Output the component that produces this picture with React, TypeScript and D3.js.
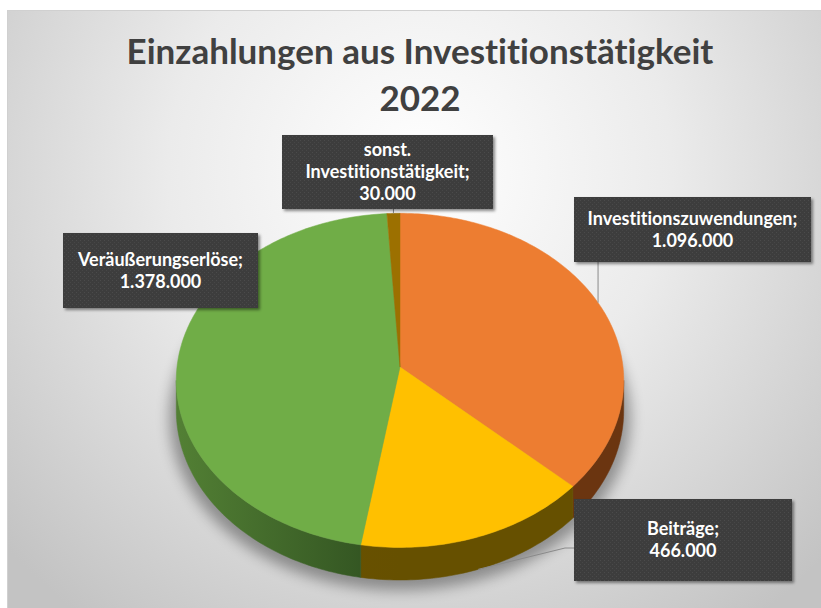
import React from "react";
import * as d3 from "d3";

const titleLines = ["Einzahlungen aus Investitionstätigkeit", "2022"];
const categories = ["Investitionszuwendungen", "Beiträge", "Veräußerungserlöse", "sonst. Investitionstätigkeit"];
const values = [1096000, 466000, 1378000, 30000];
const topColors = ["#ED7D31", "#FFC000", "#70AD47", "#9C7000"];
const sideColors = [["#6E3612", "#6B3510"], ["#6E5300", "#665000"], ["#527F34", "#2E4E1F"], ["#5A4000", "#5A4000"]];

const W = 821, H = 608;
const cx = 400, cy = 367, rx = 223, ry = 166, K = 0.08, DEPTH = 30;

// label box layout (x, y, w, h) per category
const boxes = [
  { x: 574, y: 197, w: 237, h: 65 },
  { x: 574, y: 499, w: 218, h: 82 },
  { x: 63, y: 233, w: 195, h: 75 },
  { x: 282, y: 135, w: 211, h: 74 },
];

const de = d3.formatLocale({ decimal: ",", thousands: ".", grouping: [3], currency: ["", "€"] });
const fmt = de.format(",");

function pt(t: number, dz = 0): [number, number] {
  const s = 1 / (1 + K * Math.cos(t));
  return [cx + rx * Math.sin(t) * s, cy - ry * Math.cos(t) * s + dz * s];
}

function arcPts(a: number, b: number, dz = 0) {
  const n = Math.max(2, Math.ceil(((b - a) * 180) / Math.PI));
  const out: [number, number][] = [];
  for (let i = 0; i <= n; i++) out.push(pt(a + ((b - a) * i) / n, dz));
  return out;
}

function toPath(p: [number, number][]) {
  return "M" + p.map((q) => q[0].toFixed(2) + "," + q[1].toFixed(2)).join("L") + "Z";
}

function wrap(label: string): string[] {
  if (label.length > 24) {
    const i = label.indexOf(" ");
    return [label.slice(0, i), label.slice(i + 1) + ";"];
  }
  return [label + ";"];
}

export default function App() {
  const pie = d3.pie<number>().sort(null).value((d) => d)(values);
  const t1 = Math.acos(-K), t2 = 2 * Math.PI - Math.acos(-K);

  const sides: { d: string; i: number }[] = [];
  pie.forEach((p, i) => {
    const a = Math.max(p.startAngle, t1), b = Math.min(p.endAngle, t2);
    if (b > a) {
      const top = arcPts(a, b, 0);
      const bot = arcPts(a, b, DEPTH).reverse();
      sides.push({ d: toPath([...top, ...bot]), i });
    }
  });
  const tops = pie.map((p, i) => ({ d: toPath([[cx, cy], ...arcPts(p.startAngle, p.endAngle)]), i }));
  const shadow = toPath(arcPts(0, 2 * Math.PI, DEPTH));

  // leader anchors
  const mid = pie.map((p) => (p.startAngle + p.endAngle) / 2);
  const aOrange = pt(mid[0]);
  const aYellow = pt(mid[1], DEPTH);
  const aSonst = pt(mid[3]);

  const font = "Lato, 'Open Sans', sans-serif";
  const noLig = { fontVariantLigatures: "none", fontFeatureSettings: "'liga' 0, 'clig' 0" } as React.CSSProperties;

  return (
    <svg width={W} height={H} style={{ position: "fixed", left: 0, top: 0 }} xmlns="http://www.w3.org/2000/svg">
      <defs>
        <radialGradient id="bg" gradientUnits="userSpaceOnUse" cx={420} cy={170} r={560}>
          <stop offset="0" stopColor="#ffffff" />
          <stop offset="0.45" stopColor="#ebebeb" />
          <stop offset="1" stopColor="#c3c3c3" />
        </radialGradient>
        {sideColors.map((c, i) => (
          <linearGradient key={i} id={"side" + i} gradientUnits="userSpaceOnUse" x1={180} y1={0} x2={400} y2={0}>
            <stop offset="0" stopColor={c[0]} />
            <stop offset="1" stopColor={c[1]} />
          </linearGradient>
        ))}
        <filter id="blur" x="-20%" y="-20%" width="140%" height="140%">
          <feGaussianBlur stdDeviation="7" />
        </filter>
        <filter id="boxShadow" x="-10%" y="-10%" width="130%" height="140%">
          <feDropShadow dx="2" dy="2" stdDeviation="1.8" floodColor="#000" floodOpacity="0.45" />
        </filter>
        <pattern id="dots" width="4" height="4" patternUnits="userSpaceOnUse">
          <rect width="4" height="4" fill="#3c3c3c" />
          <rect x="0" y="0" width="1" height="1" fill="#4c4c4c" />
          <rect x="2" y="2" width="1" height="1" fill="#474747" />
        </pattern>
      </defs>
      <rect x={0} y={0} width={W} height={H} fill="#ffffff" />
      <rect x={7.5} y={10.5} width={W} height={H} fill="url(#bg)" stroke="#d0d0d0" strokeWidth={1} />

      <text fontFamily={font} fontWeight={700} fontSize={35} fill="#404040" textAnchor="middle" style={noLig}>
        <tspan x={420} y={64}>{titleLines[0]}</tspan>
        <tspan x={420} y={111}>{titleLines[1]}</tspan>
      </text>

      <g filter="url(#blur)" opacity={0.35}>
        <path d={shadow} fill="#000" transform={`translate(0,6) translate(${cx},${cy}) scale(1.03,1.02) translate(${-cx},${-cy})`} />
      </g>

      {sides.map((s) => (
        <path key={"s" + s.i} d={s.d} fill={`url(#side${s.i})`} stroke={`url(#side${s.i})`} strokeWidth={0.5} />
      ))}
      {tops.map((s) => (
        <path key={"t" + s.i} d={s.d} fill={topColors[s.i]} stroke={topColors[s.i]} strokeWidth={0.5} />
      ))}

      {/* leader lines */}
      <g stroke="#8a8a8a" strokeWidth={1} fill="none">
        <polyline points={`${aOrange[0]},${boxes[0].y + boxes[0].h} ${aOrange[0]},${aOrange[1]}`} />
        <polyline points={`${aYellow[0]},${aYellow[1]} ${boxes[1].x - 9},${boxes[1].y + 49} ${boxes[1].x},${boxes[1].y + 49}`} />
        <polyline points={`${aSonst[0]},${boxes[3].y + boxes[3].h} ${aSonst[0]},${aSonst[1]}`} />
      </g>

      {boxes.map((b, i) => {
        const lines = [...wrap(categories[i]), fmt(values[i])];
        const lh = 22;
        const cyb = b.y + b.h / 2;
        const y0 = cyb - ((lines.length - 1) * lh) / 2 + 6;
        return (
          <g key={"b" + i}>
            <rect x={b.x} y={b.y} width={b.w} height={b.h} fill="url(#dots)" filter="url(#boxShadow)" />
            <text fontFamily={font} fontWeight={700} fontSize={18} fill="#ffffff" textAnchor="middle" style={noLig}>
              {lines.map((l, j) => (
                <tspan key={j} x={b.x + b.w / 2} y={y0 + j * lh}>{l}</tspan>
              ))}
            </text>
          </g>
        );
      })}
    </svg>
  );
}
